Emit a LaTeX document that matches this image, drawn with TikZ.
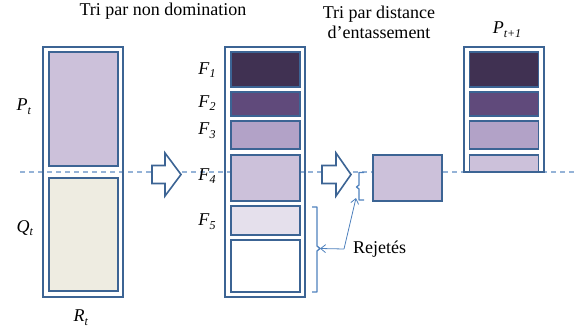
\documentclass[tikz,border=0pt]{standalone}
\usepackage{fontspec}
\setmainfont{Liberation Serif}
\newfontfamily\diagfont{Liberation Serif}
\usetikzlibrary{arrows.meta}
\definecolor{edge}{HTML}{3C6494}
\definecolor{brc}{HTML}{4F81BD}
\definecolor{dsh}{HTML}{95B3D7}
\definecolor{cA}{HTML}{403152}
\definecolor{cB}{HTML}{604A7B}
\definecolor{cC}{HTML}{B2A2C7}
\definecolor{cD}{HTML}{CCC1DA}
\definecolor{cE}{HTML}{E5E0EC}
\definecolor{cQ}{HTML}{EEECE1}
\newcommand\sublab[2]{\textit{#1}\raisebox{-0.45ex}{\fontsize{12}{12}\selectfont\textit{#2}}}
\tikzset{
  outerbox/.style={draw=edge,line width=1.6pt,inner sep=0pt,minimum width=80pt},
  inbox/.style={draw=edge,line width=1.6pt,inner sep=0pt,minimum width=69pt},
  txt/.style={font=\diagfont\fontsize{18}{20}\selectfont,inner sep=0pt},
  blockarrow/.style={draw=edge,line width=1.6pt,fill=white,line join=miter},
  bracket/.style={draw=brc,line width=1.3pt,line join=round},
  pointer/.style={draw=brc,line width=0.8pt,-{Straight Barb[length=5pt,width=8pt]}},
}
\begin{document}
\begin{tikzpicture}[x=1pt,y=-1pt]
\useasboundingbox (0,0) rectangle (574,334);
% dashed separating line
\draw[dsh,line width=1.2pt,dash pattern=on 5pt off 4pt] (20,172) -- (574,172);
% left column
\node[outerbox,minimum height=250pt] (rt) at (83,172) {};
\node[inbox,fill=cD,minimum height=114pt] (pt) at (83.5,109) {};
\node[inbox,fill=cQ,minimum height=113pt] (qt) at (83.5,234.5) {};
\node[txt] (lp) at (24,107) {\sublab{P}{t}};
\node[txt] (lq) at (25,228) {\sublab{Q}{t}};
\node[txt] (lr) at (81,318) {\sublab{R}{t}};
% titles
\node[txt] (t1) at (163,11) {Tri par non domination};
\node[txt,align=center] (t2) at (379,22) {Tri par distance\\d’entassement};
\node[txt] (lpn) at (507,30) {\sublab{P}{t+1}};
% middle column
\node[outerbox,minimum height=250pt] (mc) at (265,172) {};
\node[inbox,fill=cA,minimum height=35pt] (f1) at (265.5,69.5) {};
\node[inbox,fill=cB,minimum height=24pt] (f2) at (265.5,104) {};
\node[inbox,fill=cC,minimum height=28pt] (f3) at (265.5,135) {};
\node[inbox,fill=cD,minimum height=46pt] (f4) at (265.5,178) {};
\node[inbox,fill=cE,minimum height=29pt] (f5) at (265.5,220.5) {};
\node[inbox,fill=white,minimum height=52pt] (f6) at (265.5,266) {};
\node[txt] (l1) at (207,70) {\sublab{F}{1}};
\node[txt] (l2) at (207,103) {\sublab{F}{2}};
\node[txt] (l3) at (207,131) {\sublab{F}{3}};
\node[txt] (l4) at (207,176) {\sublab{F}{4}};
\node[txt] (l5) at (207,222) {\sublab{F}{5}};
% block arrows
\draw[blockarrow] (152,165.5) -- (165,165.5) -- (165,153) -- (181,174.5) -- (165,196) -- (165,183.5) -- (152,183.5) -- cycle;
\draw[blockarrow] (322,165.5) -- (336,165.5) -- (336,153) -- (351,174.5) -- (336,196) -- (336,183.5) -- (322,183.5) -- cycle;
% selected part of F4
\node[inbox,fill=cD,minimum height=46pt] (sel) at (407.5,178) {};
% right column
\node[outerbox,minimum height=125pt] (pn) at (504,109.5) {};
\node[inbox,fill=cA,minimum height=35pt] (r1) at (504,69.5) {};
\node[inbox,fill=cB,minimum height=24pt] (r2) at (504,104) {};
\node[inbox,fill=cC,minimum height=28pt] (r3) at (504,135) {};
\node[inbox,fill=cD,minimum height=17pt] (r4) at (504,163.5) {};
% brackets
\draw[bracket] (312,207) -- (317,207) -- (317,246) -- (320,248.5) -- (317,251) -- (317,292) -- (312,292);
\coordinate (bigtip) at (320,248.5);
\draw[bracket] (364,172.5) -- (359,172.5) -- (359,185) -- (356.5,187) -- (359,189) -- (359,200) -- (364,200);
\coordinate (smalltip) at (356,198);
% rejected label and pointers
\node[txt,anchor=west,inner xsep=9pt] (rej) at (344,249) {Rejetés};
\draw[pointer] (rej.west) -- (bigtip);
\draw[pointer] (rej.west) -- (smalltip);
\end{tikzpicture}
\end{document}
